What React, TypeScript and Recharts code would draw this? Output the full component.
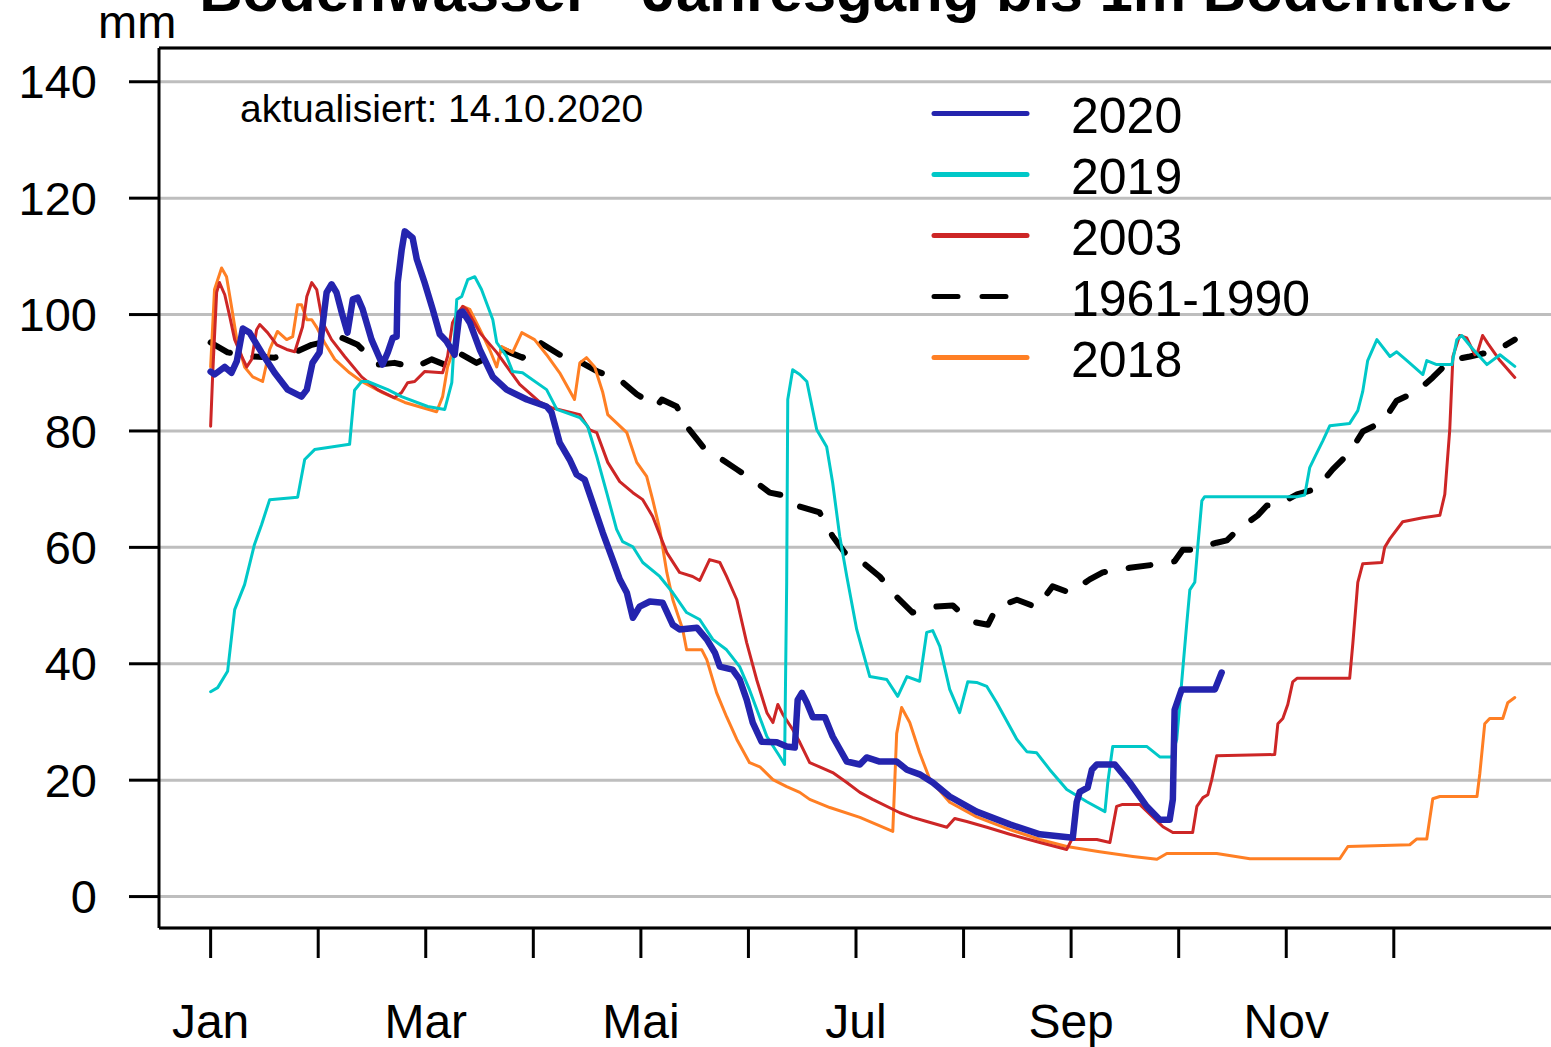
import { LineChart, Line, XAxis, YAxis, CartesianGrid, ReferenceLine } from "recharts";

const FONT = '"Liberation Sans", Arial, Helvetica, sans-serif';

// x = day of year (0 = 1 Jan), y = soil water in mm
const monthTicks = [0, 30.42, 60.83, 91.25, 121.67, 152.08, 182.5, 212.92, 243.33, 273.75, 304.17, 334.58];
const monthLabels = ["Jan", "", "Mar", "", "Mai", "", "Jul", "", "Sep", "", "Nov", ""];
const mmTicks = [0, 20, 40, 60, 80, 100, 120, 140];

const day2020 = [0, 1.1, 4, 5.9, 7.4, 9.1, 11, 14.4, 18.1, 21.8, 25.7, 27.2, 28.8, 30.8, 31.4, 32.8, 34.2, 35.6, 37.1, 38.7, 40.2, 41.6, 43, 45.5, 48.6, 50.1, 51.5, 52.6, 52.9, 54, 54.9, 57.1, 58.3, 60.5, 62.8, 64.8, 66.7, 69, 70.4, 71.3, 73.3, 76.1, 79.8, 83.7, 89.4, 95, 96.4, 98.7, 101.5, 103.5, 105.8, 108, 110.9, 113.7, 115.7, 117.7, 119.4, 121.3, 124.2, 127.8, 130.7, 132.6, 137.5, 140.3, 142.6, 144, 147.6, 149.6, 151.6, 153.3, 155.8, 160.1, 162.9, 165.2, 166, 167.2, 168.6, 170.3, 173.7, 175.9, 179.9, 183.6, 185.5, 189.2, 194, 196.9, 200.5, 204.2, 209, 216.6, 226, 234.5, 243.8, 244.9, 245.8, 248, 249.2, 250.6, 255.7, 259.9, 264.7, 268.4, 271.2, 272.1, 272.6, 274.6, 284, 285.9];
const mm2020 = [90.2, 89.7, 91, 90, 92, 97.6, 96.9, 93.5, 90, 87.1, 85.9, 87.1, 91.7, 93.5, 96.9, 103.8, 105.2, 103.8, 100.3, 96.9, 102.6, 102.9, 100.9, 95.7, 91.4, 93.5, 96, 96.2, 105.5, 111, 114.3, 113.2, 109.5, 105.5, 100.9, 96.6, 95.4, 93.1, 100.3, 100.5, 98.6, 94, 89.3, 87.1, 85.4, 84.2, 83.2, 78, 75.1, 72.5, 71.6, 67.7, 62.5, 57.9, 54.5, 52.2, 47.9, 49.8, 50.7, 50.5, 46.7, 45.9, 46.2, 44.2, 41.9, 39.5, 39, 37.3, 33.8, 29.9, 26.6, 26.5, 25.8, 25.6, 33.8, 35, 33.3, 30.8, 30.8, 27.5, 23.2, 22.7, 23.9, 23.2, 23.2, 21.8, 21, 19.6, 17.2, 14.6, 12.4, 10.7, 10.1, 16.2, 18, 18.7, 21.8, 22.7, 22.7, 19.6, 15.5, 13.2, 13.2, 16.7, 32.1, 35.6, 35.6, 38.5];

const day2019 = [0, 2, 4.8, 6.8, 9.6, 12.4, 14.4, 16.7, 24.6, 26.6, 29.4, 39.3, 40.7, 42.7, 44.4, 50.1, 54, 61.4, 66.2, 68.2, 69.6, 71, 72.7, 74.7, 76.6, 79.8, 80.9, 83.7, 85.4, 88.2, 95, 97.9, 104.4, 106.6, 109.2, 112, 114.8, 116.5, 119.4, 122.2, 127, 130.7, 134.6, 138.3, 142, 145.9, 149.6, 152.4, 157.3, 160.9, 162.3, 162.9, 163.2, 164.6, 166.6, 168.6, 171.4, 174.2, 175.9, 177.9, 179.9, 182.7, 186.4, 191.2, 194.3, 196.9, 200.5, 202.5, 204.2, 206.2, 209, 211.8, 214.1, 216.6, 219.5, 222.3, 228, 230.8, 233.6, 237.3, 242.1, 247.8, 252.9, 253.7, 255.1, 264.7, 268.4, 271.8, 273.2, 274.6, 276, 276.9, 278.3, 279.2, 280.3, 281.1, 307.2, 309.4, 310.8, 312.3, 314.5, 316.5, 322.1, 324.4, 325.8, 327.2, 329.8, 333.5, 335.4, 338.3, 342.8, 343.9, 346.7, 351, 352.4, 353.8, 356.6, 360.9, 364.6, 368.8];
const mm2019 = [35.2, 35.9, 38.7, 49.3, 53.6, 60.5, 63.9, 68.2, 68.6, 75.1, 76.8, 77.7, 87, 88.5, 88.5, 87.1, 85.9, 84.2, 83.7, 88.3, 102.6, 103.1, 106, 106.5, 104.3, 99.1, 95.2, 92.8, 90.2, 90, 87.1, 83.7, 82.3, 80.8, 75.6, 69.4, 63.1, 61, 60.1, 57.4, 55, 52.2, 48.8, 47.6, 44.2, 42.4, 39.5, 35.5, 27.5, 24.1, 22.7, 54, 85.4, 90.5, 89.7, 88.5, 80.2, 77.3, 71.1, 61.9, 55, 45.9, 37.8, 37.3, 34.4, 37.8, 37, 45.4, 45.7, 43, 35.6, 31.6, 36.9, 36.8, 36.1, 33.3, 27, 24.9, 24.7, 21.8, 18.4, 16.3, 14.6, 19.6, 25.8, 25.8, 24, 24, 27, 36.9, 46.7, 52.7, 54, 60.5, 68, 68.7, 68.7, 69, 73.7, 75.6, 78.3, 80.9, 81.3, 83.5, 86.8, 92.1, 95.7, 92.8, 93.6, 92.1, 89.7, 92.1, 91.4, 91.4, 95.7, 96.4, 94.3, 91.4, 93.1, 91.1];

const day2003 = [0, 0.6, 1.7, 2.5, 4, 5.4, 6.8, 8.8, 10.2, 11.6, 13, 13.9, 16.1, 18.7, 21.5, 23.8, 26, 27.2, 28.6, 30, 31.7, 34.2, 37.9, 42.7, 47.2, 52, 54, 55.7, 57.7, 60.5, 65.6, 67, 68.4, 69.9, 71.3, 72.4, 76.1, 80.9, 87.4, 93, 96.4, 104.4, 107.2, 109.2, 112.3, 115.7, 119.4, 122.2, 125, 129, 132.6, 136.3, 138.3, 141.1, 144, 145.9, 148.8, 151.6, 154.4, 157.3, 159, 160.4, 161.8, 164.6, 166.6, 169.4, 172.2, 175.9, 179.9, 183.6, 187.2, 194.9, 198.5, 202.5, 208.2, 210.4, 213.8, 219.5, 226, 234.5, 242.1, 243.5, 250.6, 254.3, 256.2, 257.7, 262.8, 266.4, 269.3, 272.1, 277.7, 278.9, 280.6, 282, 283.1, 284.5, 300.9, 301.8, 303.2, 304.6, 306, 307.2, 322.1, 323, 324.4, 325.8, 331.2, 332, 333.5, 337.1, 342.8, 347.6, 349, 350.4, 351.3, 353.2, 355.2, 357.5, 358.3, 359.7, 361.2, 364.6, 368.8];
const mm2003 = [80.8, 90, 103.8, 105.5, 103.4, 99.7, 95.7, 92.8, 91, 92.3, 97.4, 98.3, 96.9, 94.8, 94, 93.6, 97.9, 103.1, 105.5, 104.3, 98.6, 95.7, 92.8, 89.3, 87.1, 85.7, 86.6, 88.3, 88.5, 90.2, 90, 92.8, 98.6, 100.3, 101.4, 100.9, 96.9, 93.5, 88, 85, 84, 82.8, 80.2, 79.7, 74.6, 71.3, 69.4, 68.2, 65.3, 59.1, 55.7, 55, 54.3, 57.9, 57.4, 55, 51, 43.6, 37.3, 31.6, 29.9, 33, 31.3, 28.7, 26.5, 23, 22.3, 21.3, 19.6, 17.9, 16.7, 14.4, 13.6, 12.9, 11.9, 13.4, 12.9, 11.9, 10.7, 9.3, 8.1, 9.8, 9.8, 9.3, 15.5, 15.8, 15.8, 13.7, 12, 11, 11, 15.5, 17, 17.5, 20.1, 24.2, 24.4, 29.7, 30.6, 33, 36.9, 37.5, 37.5, 43.5, 54, 57.2, 57.4, 60, 61.5, 64.4, 65.1, 65.5, 69.1, 80.2, 92.8, 96.4, 96, 93.1, 93.6, 96.4, 95, 92.1, 89.2];

const day2018 = [0, 1.1, 3.1, 4.5, 5.9, 7.4, 9.6, 11.9, 14.7, 16.7, 18.9, 21.5, 23.2, 24.6, 25.7, 27.2, 28.6, 30, 32.2, 35.1, 39.3, 42.7, 48.6, 54.9, 63.9, 65.6, 67, 68.4, 71.3, 73.3, 76.1, 78.9, 80.9, 82.3, 85.4, 88, 91.6, 95, 98.7, 102.9, 104.4, 106.3, 108.6, 110.9, 112.3, 117.7, 120.5, 123.3, 125, 127, 129, 130.7, 133.5, 134.6, 138.9, 140.3, 143.1, 145.9, 148.8, 152.4, 155.3, 159, 162.9, 166.6, 169.4, 175.1, 183.6, 192.9, 194, 195.4, 197.7, 200.5, 203.4, 209, 216.6, 226, 234.5, 242.1, 251.4, 260.8, 267.6, 270.4, 284.5, 293.9, 319.3, 321.6, 339.1, 341.1, 343.9, 345.6, 347.6, 358.1, 358.9, 360.3, 361.7, 365.4, 366.8, 368.8];
const mm2018 = [91, 104.3, 108, 106.5, 101.4, 95.7, 91, 89.3, 88.5, 94, 97.1, 95.7, 96.2, 101.7, 101.7, 99.1, 99.1, 97.8, 95.2, 92.3, 90, 88.5, 86.6, 84.9, 83.3, 85.9, 91, 93.5, 101.4, 100.9, 97.5, 94, 91, 94.5, 93.5, 96.9, 95.7, 93.1, 90, 85.4, 91.7, 92.6, 91, 86.6, 82.8, 79.7, 74.6, 72.2, 68.2, 63.1, 55.7, 51, 45.9, 42.4, 42.4, 40.7, 35, 30.9, 27, 23, 22.3, 20.1, 18.9, 17.9, 16.7, 15.3, 13.6, 11.2, 28, 32.5, 29.9, 24.7, 20.1, 16.2, 13.7, 11.5, 9.8, 8.6, 7.7, 6.9, 6.4, 7.4, 7.4, 6.5, 6.5, 8.6, 8.9, 9.9, 9.9, 16.8, 17.2, 17.2, 21.1, 29.7, 30.6, 30.6, 33.3, 34.2];

const dayMean = [0, 4.8, 11.6, 18.1, 23.8, 28.6, 37.1, 41.6, 47.2, 52, 57.7, 62.5, 66.2, 69.9, 75.2, 82.6, 88.2, 93.1, 98.7, 104.4, 109.5, 115.7, 120.5, 126.1, 127.6, 131.8, 134.9, 139.2, 143.4, 148.8, 153.3, 158.1, 163.8, 166.6, 172.2, 175.9, 179.3, 184.4, 189.2, 194, 198.5, 204.2, 209.9, 214.7, 219.8, 222.3, 228, 233.6, 238.1, 243, 248.6, 252.3, 259.9, 266.4, 272.6, 274.9, 277.7, 284.5, 287.4, 290.2, 296.1, 298.7, 301.5, 307.2, 312.8, 317.3, 322.1, 325.8, 331.5, 335.4, 341.1, 345.6, 350.4, 356.1, 359.7, 363.1, 368.8];
const mmMean = [95.2, 93.5, 92.8, 92.6, 93.5, 94.8, 96, 94.8, 91.4, 91.7, 90.9, 92.3, 91.4, 93.5, 91.7, 94, 92.6, 95.2, 93.1, 91.9, 90.2, 88.8, 86.3, 84.2, 85.4, 84.2, 80.6, 77.3, 75.6, 73.4, 71.6, 69.4, 68.7, 67, 66, 61.9, 59.1, 57.4, 55, 51.5, 48.8, 49.8, 50, 47.3, 46.7, 49.7, 51, 49.7, 53.3, 52.2, 54.5, 55.7, 56.5, 57, 57.6, 59.6, 59.6, 60.8, 61.2, 62.9, 65.5, 67.2, 67.2, 69.1, 70.1, 73.4, 76.3, 79.9, 81.6, 85.2, 86.8, 89.2, 92.1, 92.8, 93.3, 93.6, 95.7];

const zip = (days: number[], vals: number[]) => days.map((d, i) => ({ d, v: vals[i] }));

type Serie = { key: string; name: string; data: { d: number; v: number }[]; color: string; width: number; dash?: string };

const mean: Serie = { key: "mean", name: "1961-1990", data: zip(dayMean, mmMean), color: "#000000", width: 6, dash: "22 24" };
const y2018: Serie = { key: "2018", name: "2018", data: zip(day2018, mm2018), color: "#FF7F24", width: 3 };
const y2003: Serie = { key: "2003", name: "2003", data: zip(day2003, mm2003), color: "#CD2626", width: 3 };
const y2019: Serie = { key: "2019", name: "2019", data: zip(day2019, mm2019), color: "#00C8C8", width: 3 };
const y2020: Serie = { key: "2020", name: "2020", data: zip(day2020, mm2020), color: "#2424AE", width: 6.5 };

const drawOrder = [mean, y2018, y2003, y2019, y2020];
const legendOrder = [y2020, y2019, y2003, mean, y2018];

const App = () => {
    return (
        <div style={{ position: "absolute", left: 0, top: 0, width: 1551, height: 1047, overflow: "hidden", background: "#fff" }}>
            <LineChart width={1560} height={1047} margin={{ top: 48, right: 7, left: 0, bottom: 0 }}>
                <CartesianGrid vertical={false} stroke="#BEBEBE" strokeWidth={3} />
                <XAxis
                    type="number"
                    dataKey="d"
                    domain={[-14.6, 379.6]}
                    allowDataOverflow
                    ticks={monthTicks}
                    interval={0}
                    tickFormatter={(_v: number, i: number) => monthLabels[i]}
                    height={119}
                    tickSize={30}
                    tickMargin={46}
                    tick={{ fontSize: 48, fill: "#000", fontFamily: FONT }}
                    tickLine={{ stroke: "#000", strokeWidth: 3 }}
                    axisLine={{ stroke: "#000", strokeWidth: 3 }}
                />
                <YAxis
                    type="number"
                    domain={[-5.4, 145.8]}
                    allowDataOverflow
                    ticks={mmTicks}
                    interval={0}
                    width={159}
                    tickSize={30}
                    tickMargin={32}
                    tick={{ fontSize: 47, fill: "#000", fontFamily: FONT }}
                    tickLine={{ stroke: "#000", strokeWidth: 3 }}
                    axisLine={{ stroke: "#000", strokeWidth: 3 }}
                />
                <ReferenceLine y={145.8} stroke="#000" strokeWidth={3} />
                {drawOrder.map((s) => (
                    <Line
                        key={s.key}
                        data={s.data}
                        dataKey="v"
                        name={s.name}
                        type="linear"
                        stroke={s.color}
                        strokeWidth={s.width}
                        strokeDasharray={s.dash}
                        strokeLinejoin="round"
                        strokeLinecap="round"
                        dot={false}
                        activeDot={false}
                        isAnimationActive={false}
                    />
                ))}
            </LineChart>

            <svg
                width={1551}
                height={1047}
                style={{ position: "absolute", left: 0, top: 0, pointerEvents: "none" }}
                fontFamily={FONT}
            >
                {/* title is cut off by the top edge, as in the original */}
                <text x={856} y={11} textAnchor="middle" fontSize={60} fontWeight="bold" fill="#000">
                    Bodenwasser - Jahresgang bis 1m Bodentiefe
                </text>
                <text x={98} y={38} fontSize={47} fill="#000">mm</text>
                <text x={240} y={122} fontSize={39} fill="#000">aktualisiert: 14.10.2020</text>
                {legendOrder.map((s, i) => (
                    <g key={s.key}>
                        <line
                            x1={934}
                            x2={1027}
                            y1={113.5 + 61 * i}
                            y2={113.5 + 61 * i}
                            stroke={s.color}
                            strokeWidth={5}
                            strokeLinecap="round"
                            strokeDasharray={s.dash ? "24 24" : undefined}
                        />
                        <text x={1071} y={133 + 61 * i} fontSize={50} fill="#000">{s.name}</text>
                    </g>
                ))}
            </svg>
        </div>
    );
};

export default App;
